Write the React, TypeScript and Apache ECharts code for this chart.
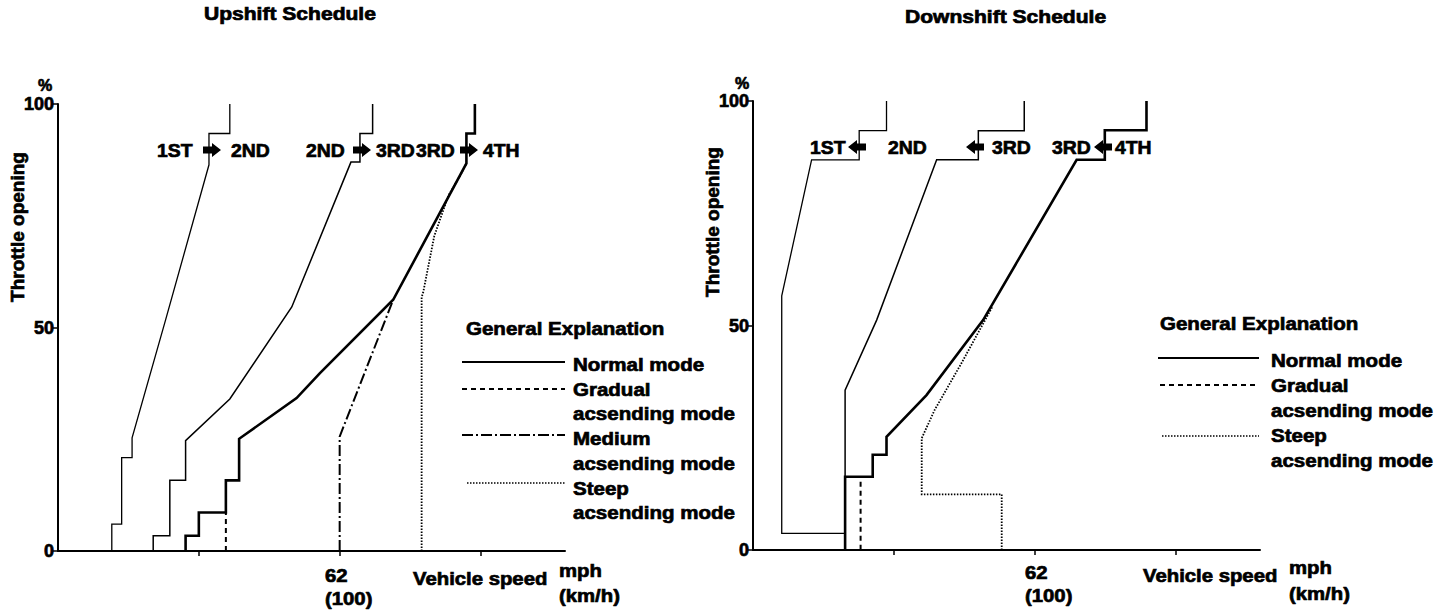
import React, { useEffect, useRef } from 'react';
import * as echarts from 'echarts';

// ---------- data (x: vehicle speed km/h, y: throttle opening %) ----------
const X_TICKS = [50, 100, 150];
const Y_TICKS_INTERVAL = 50;
const X_LABEL_MPH = '62';
const X_LABEL_KMH = '(100)';

// Upshift schedule
const up12Normal = [[19.1,0],[19.1,6],[22.6,6],[22.6,20.9],[26.3,20.9],[26.3,25.3],[38.2,51.7],[53.6,86.4],[53.6,93.4],[61,93.4],[61,100]];
const up23Normal = [[33.8,0],[33.8,3.4],[39.7,3.4],[39.7,15.8],[45.3,15.8],[45.3,24.7],[61,34],[83,54.6],[104,87],[107.2,87],[107.2,93.4],[111.7,93.4],[111.7,100]];
const up34Normal = [[45.3,0],[45.3,3.4],[50,3.4],[50,8.6],[59.6,8.6],[59.6,15.8],[64.3,15.8],[64.3,25.1],[84.7,34.2],[93,39.8],[119,56.2],[145,86.7],[145,93.4],[148,93.4],[148,100]];
const up34Gradual = [[59.6,0],[59.6,8.6]];
const up34Medium = [[100,0],[100,25.6],[119,56.2]];
const up34Steep = [[129.1,0],[129.1,56.8],[129.6,57.7],[133.6,70.5],[138.6,79.5],[142.8,84],[145,86.7]];

// Downshift schedule
const down12Normal = [[47.4,100],[47.4,93.4],[37.7,93.4],[37.7,86.9],[20.8,86.9],[10.2,56.6],[10.2,3.7],[32.7,3.7],[32.7,0]];
const down23Normal = [[96.3,100],[96.3,93.4],[80,93.4],[80,86.9],[65.2,86.9],[43.9,51.2],[32.7,35.6],[32.7,0]];
const down34Normal = [[139.7,100],[139.7,93.5],[124.9,93.5],[124.9,86.9],[114.9,86.9],[81.7,51.2],[61.6,34.5],[47.4,25.2],[47.4,21.2],[42.5,21.2],[42.5,16.3],[32.7,16.3],[32.7,0]];
const down34Gradual = [[38.2,15.2],[38.2,0]];
const down34Steep = [[88.3,0],[88.3,12.4],[59.9,12.4],[59.9,24.9],[64.5,31.2],[74,41.6],[82.4,51.2],[85,54.2]];

const TITLES = ['Upshift Schedule', 'Downshift Schedule'];
const LEGEND_UP = ['Normal mode', 'Gradual', 'acsending mode', 'Medium', 'acsending mode', 'Steep', 'acsending mode'];
const LEGEND_DOWN = ['Normal mode', 'Gradual', 'acsending mode', 'Steep', 'acsending mode'];

// ---------- styles ----------
const FONT = '"Liberation Sans", Arial, Helvetica, sans-serif';
const DASH = [5, 4];
const DASHDOT = [11, 3, 2, 3];
const DOT = [1.5, 1.5];

function txt(text: string, x: number, y: number, size = 19, scaleX = 1.07, align = 'left', rotation = 0) {
  return {
    type: 'text', x, y, scaleX, rotation, silent: true,
    style: {
      text, fill: '#000', stroke: '#000', lineWidth: 0.7,
      fontSize: size, fontWeight: 'bold', fontFamily: FONT,
      align, verticalAlign: 'middle', textAlign: align, textVerticalAlign: 'middle',
    },
  };
}

function arrow(cx: number, cy: number, dir: number) {
  const pts = [[-9,-3.5],[0,-3.5],[0,-7],[9,0],[0,7],[0,3.5],[-9,3.5]].map(([x, y]) => [cx + dir * x, cy + y]);
  return { type: 'polygon', shape: { points: pts }, style: { fill: '#000' }, silent: true };
}

function seg(x1: number, y1: number, x2: number, y2: number, width: number, dash?: number[]) {
  return { type: 'line', shape: { x1, y1, x2, y2 }, silent: true, style: { stroke: '#000', lineWidth: width, lineDash: dash || null } };
}

function ser(data: number[][], idx: number, width: number, type: any = 'solid') {
  return {
    type: 'line', xAxisIndex: idx, yAxisIndex: idx, data, symbol: 'none', showSymbol: false,
    clip: false, emphasis: { disabled: true }, silent: true,
    lineStyle: { color: '#000', width, type, cap: 'butt', join: 'miter' },
  };
}

export default function App() {
  const ref = useRef<HTMLDivElement>(null);
  useEffect(() => {
    if (!ref.current) return;
    const chart = echarts.init(ref.current, null, { renderer: 'svg' });
    const grids = [
      { left: 58, top: 104, width: 507, height: 447 },
      { left: 753, top: 101, width: 507, height: 449 },
    ];
    const xAxis = grids.map((_, i) => ({
      type: 'value', gridIndex: i, min: 0, max: 180, interval: 50,
      axisLine: { show: true, onZero: false, lineStyle: { color: '#000', width: 2 } },
      axisTick: { show: true, customValues: X_TICKS, length: 5, lineStyle: { color: '#000', width: 1.5 } },
      axisLabel: { show: false },
      splitLine: { show: false },
    }));
    const yAxis = grids.map((_, i) => ({
      type: 'value', gridIndex: i, min: 0, max: 100, interval: Y_TICKS_INTERVAL,
      axisLine: { show: true, onZero: false, lineStyle: { color: '#000', width: 2 } },
      axisTick: { show: true, length: 5, lineStyle: { color: '#000', width: 1.5 } },
      axisLabel: {
        color: '#000', fontSize: 18, fontWeight: 'bold', fontFamily: FONT, margin: 4,
        textBorderColor: '#000', textBorderWidth: 0.7,
      },
      splitLine: { show: false },
    }));
    const series = [
      ser(up12Normal, 0, 1.3),
      ser(up23Normal, 0, 1.5),
      ser(up34Gradual, 0, 2, DASH),
      ser(up34Medium, 0, 2, DASHDOT),
      ser(up34Steep, 0, 1.8, DOT),
      ser(up34Normal, 0, 2.6),
      ser(down12Normal, 1, 1.3),
      ser(down23Normal, 1, 1.5),
      ser(down34Gradual, 1, 2, DASH),
      ser(down34Steep, 1, 1.8, DOT),
      ser(down34Normal, 1, 2.6),
    ];

    const graphic: any[] = [
      // titles
      txt(TITLES[0], 204, 14, 18, 1.17),
      txt(TITLES[1], 905, 17, 18, 1.17),
      // y axis names
      txt('%', 45, 85, 16, 1, 'center'),
      txt('%', 742, 83, 16, 1, 'center'),
      txt('Throttle opening', 17, 227, 19, 1, 'center', Math.PI / 2),
      txt('Throttle opening', 712, 222, 19, 1, 'center', Math.PI / 2),
      // x axis labels
      txt(X_LABEL_MPH, 325, 575, 19),
      txt(X_LABEL_KMH, 325, 598, 19),
      txt('Vehicle speed', 413, 578, 19),
      txt('mph', 559, 570, 19),
      txt('(km/h)', 559, 595, 19),
      txt(X_LABEL_MPH, 1025, 572, 19),
      txt(X_LABEL_KMH, 1025, 595, 19),
      txt('Vehicle speed', 1143, 575, 19),
      txt('mph', 1289, 567, 19),
      txt('(km/h)', 1289, 593, 19),
      // gear labels upshift
      txt('1ST', 157, 151, 19, 1.02),
      arrow(212, 150, 1),
      txt('2ND', 231, 151, 19, 1.02),
      txt('2ND', 306, 151, 19, 1.02),
      arrow(362, 150, 1),
      txt('3RD', 376, 151, 19, 1.02),
      txt('3RD', 416, 151, 19, 1.02),
      arrow(469, 150, 1),
      txt('4TH', 483, 151, 19, 1.02),
      // gear labels downshift
      txt('1ST', 810, 148, 19, 1.02),
      arrow(857, 147, -1),
      txt('2ND', 888, 148, 19, 1.02),
      arrow(975, 147, -1),
      txt('3RD', 992, 148, 19, 1.02),
      txt('3RD', 1052, 148, 19, 1.02),
      arrow(1103, 147, -1),
      txt('4TH', 1115, 148, 19, 1.02),
      // legend upshift
      txt('General Explanation', 466, 328, 19, 1.08),
      seg(462, 362, 565, 362, 2),
      seg(462, 389, 565, 389, 1.8, DASH),
      seg(462, 435, 565, 435, 2, DASHDOT),
      seg(467, 483, 565, 483, 1.6, DOT),
      txt(LEGEND_UP[0], 573, 364, 19, 1.08),
      txt(LEGEND_UP[1], 573, 389, 19, 1.08),
      txt(LEGEND_UP[2], 573, 413, 19, 1.08),
      txt(LEGEND_UP[3], 573, 438, 19, 1.08),
      txt(LEGEND_UP[4], 573, 463, 19, 1.08),
      txt(LEGEND_UP[5], 573, 488, 19, 1.08),
      txt(LEGEND_UP[6], 573, 512, 19, 1.08),
      // legend downshift
      txt('General Explanation', 1160, 323, 19, 1.08),
      seg(1158, 358, 1259, 358, 2),
      seg(1160, 385, 1259, 385, 1.8, DASH),
      seg(1162, 436, 1259, 436, 1.6, DOT),
      txt(LEGEND_DOWN[0], 1271, 360, 19, 1.08),
      txt(LEGEND_DOWN[1], 1271, 385, 19, 1.08),
      txt(LEGEND_DOWN[2], 1271, 410, 19, 1.08),
      txt(LEGEND_DOWN[3], 1271, 435, 19, 1.08),
      txt(LEGEND_DOWN[4], 1271, 460, 19, 1.08),
    ];

    chart.setOption({
      animation: false,
      backgroundColor: '#fff',
      grid: grids,
      xAxis,
      yAxis,
      series,
      graphic,
    });
    return () => chart.dispose();
  }, []);
  return <div ref={ref} style={{ position: 'fixed', left: 0, top: 0, width: '1440px', height: '614px', background: '#fff' }} />;
}
